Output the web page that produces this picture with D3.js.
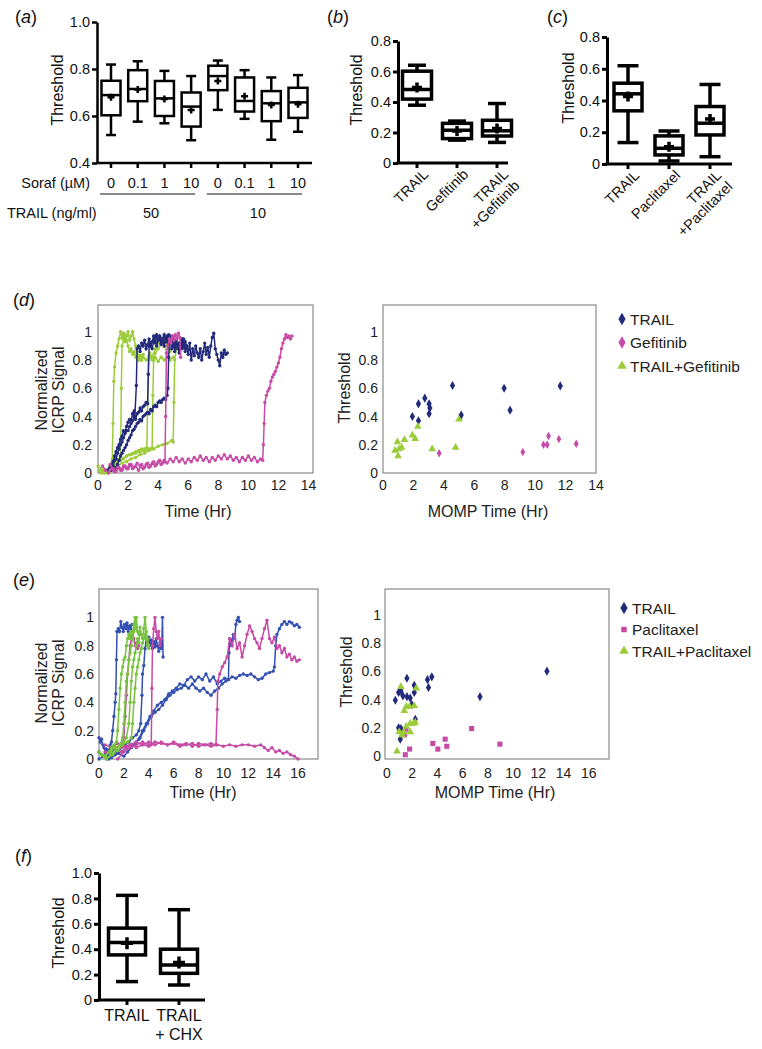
<!DOCTYPE html>
<html><head><meta charset="utf-8">
<script src="https://cdn.jsdelivr.net/npm/d3@7"></script>
<style>body{margin:0;background:#fff}svg{display:block}text{font-family:"Liberation Sans",Arial,sans-serif}</style>
</head><body><svg id="c" width="762" height="1049"></svg>
<script>
// ---------- Panel (a) ----------
const aSoraf = ["0","0.1","1","10","0","0.1","1","10"];
const aTrail = ["50","10"];
const aMax  = [0.819,0.833,0.792,0.770,0.836,0.795,0.764,0.774];
const aQ3   = [0.750,0.795,0.749,0.700,0.814,0.764,0.706,0.720];
const aMed  = [0.689,0.715,0.675,0.640,0.770,0.664,0.654,0.658];
const aMean = [0.680,0.713,0.672,0.626,0.749,0.684,0.647,0.650];
const aQ1   = [0.603,0.663,0.600,0.555,0.710,0.619,0.578,0.592];
const aMin  = [0.519,0.576,0.569,0.497,0.626,0.588,0.499,0.533];
const aTicks = [0.4,0.6,0.8,1.0];
const aTickLabels = ["0.4","0.6","0.8","1.0"];
// ---------- Panel (b) ----------
const bCats = [["TRAIL"],["Gefitinib"],["TRAIL","+Gefitinib"]];
const bMax  = [0.641,0.275,0.390];
const bQ3   = [0.602,0.260,0.280];
const bMed  = [0.482,0.215,0.211];
const bMean = [0.495,0.210,0.227];
const bQ1   = [0.419,0.160,0.177];
const bMin  = [0.379,0.150,0.135];
// ---------- Panel (c) ----------
const cCats = [["TRAIL"],["Paclitaxel"],["TRAIL","+Paclitaxel"]];
const cMax  = [0.619,0.208,0.501];
const cQ3   = [0.509,0.177,0.362];
const cMed  = [0.442,0.099,0.257];
const cMean = [0.425,0.109,0.284];
const cQ1   = [0.335,0.057,0.183];
const cMin  = [0.135,0.019,0.046];
const bcTicks = [0,0.2,0.4,0.6,0.8];
const bcTickLabels = ["0","0.2","0.4","0.6","0.8"];
// ---------- Panel (f) ----------
const fCats = [["TRAIL"],["TRAIL","+ CHX"]];
const fMax  = [0.824,0.711];
const fQ3   = [0.566,0.400];
const fMed  = [0.453,0.276];
const fMean = [0.447,0.295];
const fQ1   = [0.355,0.210];
const fMin  = [0.145,0.118];
const fTicks = [0,0.2,0.4,0.6,0.8,1.0];
const fTickLabels = ["0","0.2","0.4","0.6","0.8","1.0"];

// ---------- Panel (d) traces ----------
const dTrailTraces = [
 [[0.6,0.02],[0.8,0.04],[1.0,0.08],[1.1,0.12],[1.2,0.15],[1.3,0.18],[1.4,0.2],[1.5,0.24],[1.6,0.26],[1.7,0.3],[1.8,0.29],[1.9,0.33],[2.0,0.36],[2.1,0.38],[2.2,0.37],[2.3,0.42],[2.4,0.44],[2.45,0.4],[2.55,0.62],[2.6,0.88],[2.7,0.9],[2.8,0.86],[2.9,0.92],[3.0,0.9],[3.1,0.94],[3.2,0.88],[3.3,0.91],[3.4,0.95],[3.5,0.9],[3.6,0.93],[3.7,0.97],[3.8,0.92],[3.9,0.98],[4.0,0.94],[4.1,0.96],[4.2,0.91],[4.3,0.95],[4.4,0.98],[4.5,0.93],[4.6,0.97],[4.7,0.9],[4.8,0.94],[4.9,0.88],[5.0,0.92],[5.1,0.86],[5.2,0.93],[5.3,0.9],[5.4,0.85],[5.5,0.92],[5.6,0.88],[5.7,0.95],[5.8,0.86],[5.9,0.9],[6.0,0.84],[6.1,0.92],[6.2,0.8],[6.3,0.88],[6.4,0.83],[6.5,0.9],[6.6,0.85],[6.7,0.82],[6.8,0.88],[6.9,0.8],[7.0,0.86],[7.1,0.92],[7.2,0.84],[7.3,0.89],[7.4,0.82],[7.5,0.9],[7.6,0.96],[7.7,0.99],[7.8,0.88],[7.9,0.84],[8.0,0.8],[8.1,0.76],[8.2,0.85],[8.3,0.82],[8.4,0.87],[8.5,0.84],[8.6,0.85]],
 [[0.9,0.02],[1.0,0.05],[1.1,0.09],[1.2,0.1],[1.3,0.14],[1.4,0.17],[1.5,0.2],[1.6,0.22],[1.7,0.25],[1.8,0.28],[1.9,0.3],[2.0,0.3],[2.1,0.33],[2.2,0.35],[2.3,0.37],[2.4,0.4],[2.5,0.38],[2.6,0.42],[2.7,0.43],[2.8,0.46],[2.9,0.44],[3.0,0.47],[3.1,0.48],[3.2,0.5],[3.3,0.49],[3.35,0.7],[3.4,0.9],[3.5,0.92],[3.6,0.88],[3.7,0.93],[3.8,0.96],[3.9,0.9],[4.0,0.94],[4.1,0.97],[4.2,0.92],[4.3,0.95],[4.4,0.9],[4.5,0.96],[4.6,0.93],[4.7,0.98],[4.8,0.92],[4.9,0.96],[5.0,0.9],[5.1,0.94],[5.2,0.91]],
 [[1.1,0.02],[1.2,0.04],[1.3,0.06],[1.4,0.09],[1.5,0.12],[1.6,0.14],[1.7,0.16],[1.8,0.18],[1.9,0.2],[2.0,0.23],[2.1,0.25],[2.2,0.27],[2.3,0.3],[2.4,0.31],[2.5,0.33],[2.6,0.35],[2.7,0.36],[2.8,0.38],[2.9,0.37],[3.0,0.4],[3.1,0.41],[3.2,0.42],[3.3,0.43],[3.4,0.42],[3.5,0.45],[3.6,0.44],[3.7,0.47],[3.8,0.48],[3.9,0.47],[4.0,0.5],[4.1,0.51],[4.2,0.5],[4.3,0.52],[4.4,0.53],[4.5,0.52],[4.6,0.55],[4.65,0.6],[4.7,0.82],[4.75,0.92],[4.8,0.97],[4.9,0.93],[5.0,0.96],[5.1,0.9],[5.2,0.94],[5.3,0.88],[5.4,0.92],[5.5,0.9],[5.6,0.95],[5.7,0.89],[5.8,0.93],[5.9,0.9]]
];
const dGefTraces = [
 [[0.3,0.05],[0.5,0.02],[0.7,0.0],[0.9,0.03],[1.1,0.01],[1.3,0.04],[1.5,0.02],[1.7,0.05],[1.9,0.03],[2.1,0.06],[2.3,0.03],[2.5,0.05],[2.7,0.02],[2.9,0.06],[3.1,0.04],[3.3,0.07],[3.5,0.05],[3.7,0.08],[3.9,0.06],[4.1,0.09],[4.3,0.07],[4.45,0.08],[4.5,0.4],[4.55,0.85],[4.65,0.9],[4.75,0.95],[4.85,0.92],[4.95,0.97],[5.05,0.94],[5.15,0.98],[5.25,0.95],[5.35,0.99],[5.45,0.96],[5.5,0.82]],
 [[0.8,0.06],[1.0,0.03],[1.2,0.01],[1.4,0.04],[1.6,0.02],[1.8,0.05],[2.0,0.03],[2.2,0.06],[2.4,0.04],[2.6,0.07],[2.8,0.05],[3.0,0.03],[3.2,0.06],[3.4,0.04],[3.6,0.07],[3.8,0.05],[4.0,0.08],[4.2,0.06],[4.4,0.09],[4.6,0.07],[4.8,0.1],[5.0,0.08],[5.2,0.11],[5.4,0.08],[5.6,0.1],[5.8,0.07],[6.0,0.1],[6.2,0.08],[6.4,0.11],[6.6,0.09],[6.8,0.12],[7.0,0.09],[7.2,0.11],[7.4,0.08],[7.6,0.11],[7.8,0.09],[8.0,0.12],[8.2,0.1],[8.4,0.13],[8.6,0.1],[8.8,0.12],[9.0,0.09],[9.2,0.11],[9.4,0.08],[9.6,0.11],[9.8,0.09],[10.0,0.12],[10.2,0.09],[10.4,0.11],[10.6,0.08],[10.8,0.1],[10.95,0.09],[11.0,0.2],[11.05,0.35],[11.1,0.5],[11.2,0.55],[11.3,0.58],[11.4,0.6],[11.5,0.65],[11.6,0.68],[11.7,0.7],[11.8,0.72],[11.9,0.75],[12.0,0.78],[12.1,0.82],[12.2,0.88],[12.3,0.92],[12.4,0.95],[12.5,0.98],[12.6,0.96],[12.7,0.97],[12.8,0.95],[12.9,0.97]]
];
const dComboTraces = [
 [[0,0.05],[0.2,0.03],[0.4,0.0],[0.6,0.02],[0.8,0.05],[0.95,0.1],[1.0,0.35],[1.05,0.65],[1.1,0.75],[1.2,0.85],[1.3,0.9],[1.4,0.95],[1.5,1.0],[1.6,0.96],[1.7,0.99],[1.8,0.93],[1.9,0.97],[2.0,1.0],[2.1,0.94],[2.2,0.97],[2.3,1.0],[2.4,0.95],[2.5,0.9],[2.6,0.85],[2.7,0.8],[2.8,0.83],[2.9,0.8],[3.0,0.84]],
 [[0.2,0.0],[0.5,0.02],[0.8,0.01],[1.0,0.05],[1.2,0.08],[1.4,0.1],[1.5,0.12],[1.55,0.6],[1.6,0.9],[1.7,0.95],[1.8,0.98],[1.9,0.94],[2.0,0.9],[2.1,0.86],[2.2,0.88],[2.3,0.84],[2.4,0.86],[2.5,0.82],[2.6,0.84],[2.7,0.8],[2.8,0.83],[2.9,0.8],[3.0,0.82],[3.2,0.8],[3.4,0.83],[3.6,0.8],[3.8,0.82],[4.0,0.79],[4.2,0.82],[4.4,0.8],[4.6,0.83],[4.8,0.8],[5.0,0.82]],
 [[0.3,0.02],[0.6,0.0],[0.9,0.03],[1.1,0.05],[1.3,0.07],[1.5,0.09],[1.7,0.1],[1.9,0.12],[2.1,0.13],[2.3,0.14],[2.5,0.15],[2.7,0.16],[2.9,0.17],[3.1,0.17],[3.25,0.18],[3.3,0.5],[3.35,0.8],[3.45,0.85],[3.6,0.82],[3.8,0.88],[4.0,0.92],[4.2,0.96],[4.4,0.9],[4.6,0.85]],
 [[0.5,0.01],[0.8,0.03],[1.0,0.05],[1.3,0.08],[1.6,0.1],[1.9,0.12],[2.2,0.13],[2.5,0.14],[2.8,0.15],[3.1,0.16],[3.4,0.17],[3.6,0.18],[3.65,0.55],[3.7,0.8],[3.8,0.85],[4.0,0.88],[4.2,0.92],[4.4,0.95],[4.6,0.9],[4.8,0.86]],
 [[0.1,0.02],[0.4,0.0],[0.7,0.02],[1.0,0.04],[1.3,0.05],[1.6,0.07],[1.9,0.08],[2.2,0.1],[2.5,0.11],[2.8,0.13],[3.1,0.14],[3.4,0.16],[3.7,0.17],[4.0,0.19],[4.3,0.2],[4.6,0.21],[4.9,0.23],[5.0,0.22],[5.05,0.5],[5.1,0.8],[5.2,0.88],[5.4,0.92],[5.6,0.95],[5.8,0.9],[6.0,0.88]]
];
// ---------- Panel (d) scatter ----------
const dTrailPts = [[1.93,0.40],[2.33,0.49],[2.33,0.37],[2.75,0.53],[3.03,0.49],[3.08,0.46],[3.03,0.42],[4.57,0.62],[5.14,0.41],[7.96,0.60],[8.35,0.445],[11.65,0.617]];
const dGefPts = [[3.69,0.14],[9.19,0.148],[10.55,0.20],[10.79,0.20],[10.88,0.262],[11.56,0.24],[12.70,0.207]];
const dComboPts = [[0.79,0.16],[0.95,0.22],[0.99,0.12],[1.05,0.17],[1.23,0.18],[1.41,0.235],[1.93,0.267],[2.11,0.243],[2.29,0.33],[3.23,0.17],[4.77,0.18],[4.99,0.38]];
const dLegend = ["TRAIL","Gefitinib","TRAIL+Gefitinib"];

// ---------- Panel (e) traces ----------
const eTrailTraces = [
 [[0,0.15],[0.1,0.12],[0.2,0.14],[0.3,0.1],[0.4,0.08],[0.5,0.05],[0.6,0.07],[0.7,0.03],[0.8,0.06],[0.9,0.1],[1.0,0.12],[1.1,0.2],[1.2,0.3],[1.3,0.4],[1.35,0.46],[1.4,0.7],[1.45,0.9],[1.55,0.92],[1.65,0.9],[1.75,0.97],[1.85,0.93],[1.95,0.9],[2.05,0.95],[2.15,0.92],[2.25,0.96],[2.35,0.9],[2.45,0.94],[2.55,0.92],[2.65,0.95]],
 [[0,0.05],[0.3,0.02],[0.6,0.05],[0.9,0.03],[1.2,0.07],[1.5,0.05],[1.8,0.08],[2.1,0.1],[2.4,0.12],[2.7,0.15],[3.0,0.17],[3.2,0.2],[3.35,0.25],[3.45,0.45],[3.5,0.6],[3.6,0.66],[3.7,0.78],[3.8,0.85],[3.9,0.82],[4.0,0.86],[4.1,0.8],[4.2,0.84],[4.3,0.78],[4.4,0.83],[4.5,0.79],[4.6,0.85],[4.7,0.8],[4.8,0.76],[4.9,0.82],[5.0,0.78],[5.05,0.8],[5.1,1.0],[5.15,0.72]],
 [[0,0.0],[0.5,0.03],[1.0,0.01],[1.5,0.04],[2.0,0.02],[2.3,0.05],[2.6,0.08],[2.9,0.1],[3.2,0.14],[3.5,0.2],[3.8,0.25],[4.1,0.3],[4.4,0.34],[4.7,0.38],[5.0,0.4],[5.3,0.42],[5.6,0.46],[5.9,0.48],[6.2,0.5],[6.5,0.53],[6.8,0.52],[7.1,0.56],[7.4,0.58],[7.7,0.55],[8.0,0.58],[8.3,0.56],[8.6,0.6],[8.9,0.55],[9.2,0.58],[9.5,0.53],[9.8,0.55],[10.1,0.57],[10.4,0.56],[10.7,0.58],[11.0,0.57],[11.3,0.59],[11.6,0.6],[11.9,0.59],[12.2,0.6],[12.5,0.58],[12.8,0.56],[13.1,0.57],[13.4,0.6],[13.7,0.61],[14.0,0.62],[14.1,0.65],[14.2,0.8],[14.3,0.88],[14.5,0.92],[14.7,0.95],[14.9,0.97],[15.1,0.95],[15.3,0.97],[15.5,0.96],[15.7,0.94],[15.9,0.95],[16.1,0.93]],
 [[0.3,0.02],[0.8,0.0],[1.3,0.03],[1.8,0.05],[2.2,0.08],[2.6,0.1],[3.0,0.12],[3.3,0.15],[3.6,0.2],[3.9,0.25],[4.2,0.3],[4.5,0.33],[4.8,0.35],[5.1,0.38],[5.4,0.42],[5.7,0.45],[6.0,0.47],[6.3,0.49],[6.6,0.5],[6.9,0.52],[7.2,0.5],[7.5,0.53],[7.8,0.5],[8.1,0.48],[8.4,0.5],[8.7,0.47],[9.0,0.45],[9.3,0.48],[9.6,0.5],[9.9,0.53],[10.2,0.55],[10.4,0.56],[10.45,0.75],[10.5,0.85],[10.6,0.8],[10.7,0.84],[10.8,0.88],[10.9,0.85],[11.0,0.95],[11.1,0.98],[11.2,1.0],[11.3,0.97]]
];
const ePacTraces = [
 [[0.5,0.1],[1.0,0.08],[1.5,0.11],[2.0,0.09],[2.5,0.1],[3.0,0.08],[3.5,0.1],[4.0,0.09],[4.2,0.1],[4.25,0.5],[4.3,0.8],[4.4,0.92],[4.5,1.0],[4.6,0.9],[4.7,0.85],[4.8,0.9],[4.9,0.8],[5.0,0.85]],
 [[1.5,0.0],[2.0,0.05],[2.5,0.08],[3.0,0.1],[3.5,0.12],[4.0,0.1],[4.5,0.12],[5.0,0.11],[5.5,0.1],[6.0,0.12],[6.5,0.1],[7.0,0.11],[7.5,0.09],[8.0,0.11],[8.5,0.1],[9.0,0.11],[9.4,0.1],[9.5,0.35],[9.55,0.55],[9.7,0.6],[9.9,0.65],[10.1,0.68],[10.3,0.72],[10.5,0.85],[10.7,0.8],[10.9,0.88],[11.1,0.78],[11.3,0.82],[11.5,0.72],[11.7,0.8],[11.9,0.88],[12.1,0.94],[12.3,0.9],[12.5,0.85],[12.7,0.82],[12.9,0.78],[13.1,0.85],[13.3,0.92],[13.5,0.98],[13.7,0.85],[13.9,0.82],[14.1,0.86],[14.3,0.78],[14.5,0.8],[14.7,0.75],[14.9,0.78],[15.1,0.72],[15.3,0.74],[15.5,0.7],[15.7,0.72],[15.9,0.69],[16.1,0.7]],
 [[1.8,0.05],[2.2,0.08],[2.6,0.1],[3.0,0.12],[3.5,0.1],[4.0,0.12],[4.5,0.1],[5.0,0.12],[5.5,0.1],[6.0,0.11],[6.5,0.09],[7.0,0.1],[7.5,0.11],[8.0,0.09],[8.5,0.1],[9.0,0.09],[9.5,0.1],[10.0,0.09],[10.5,0.1],[11.0,0.09],[11.5,0.1],[12.0,0.1],[12.5,0.09],[13.0,0.1],[13.3,0.08],[13.6,0.06],[13.9,0.08],[14.2,0.05],[14.5,0.06],[14.8,0.04],[15.1,0.05],[15.4,0.03],[15.7,0.02],[16.0,0.0]],
 [[0.5,0.05],[1.0,0.03],[1.5,0.06],[1.8,0.08],[2.0,0.15],[2.1,0.3],[2.2,0.45],[2.3,0.6],[2.4,0.7],[2.5,0.8],[2.6,0.85],[2.7,0.9],[2.8,0.85],[2.9,0.8],[3.0,0.82],[3.1,0.78],[3.2,0.8]]
];
const eComboTraces = [
 [[0,0.05],[0.5,0.02],[0.8,0.05],[1.0,0.08],[1.2,0.1],[1.4,0.12],[1.5,0.2],[1.6,0.35],[1.7,0.5],[1.8,0.6],[1.9,0.65],[2.0,0.7],[2.1,0.72],[2.2,0.8],[2.3,0.85],[2.4,0.88],[2.5,0.85],[2.6,0.9],[2.7,0.87],[2.8,0.95],[2.9,1.0],[3.0,0.92]],
 [[0.2,0.03],[0.6,0.0],[1.0,0.04],[1.4,0.07],[1.7,0.1],[1.9,0.15],[2.0,0.25],[2.1,0.4],[2.2,0.55],[2.3,0.6],[2.4,0.7],[2.5,0.75],[2.6,0.8],[2.7,0.85],[2.8,0.9],[2.9,0.95],[3.0,1.0],[3.1,0.9],[3.2,0.88],[3.3,0.93]],
 [[0.4,0.02],[0.9,0.05],[1.3,0.08],[1.7,0.1],[2.0,0.12],[2.2,0.15],[2.4,0.25],[2.5,0.4],[2.6,0.55],[2.7,0.65],[2.8,0.7],[2.9,0.75],[3.0,0.8],[3.1,0.85],[3.2,0.82],[3.3,0.9],[3.4,0.88],[3.5,0.85],[3.6,0.92],[3.7,1.0],[3.8,0.9],[3.9,0.85],[4.0,0.8]],
 [[0.6,0.0],[1.1,0.03],[1.5,0.06],[1.9,0.1],[2.3,0.12],[2.6,0.15],[2.7,0.25],[2.8,0.4],[2.9,0.5],[3.0,0.6],[3.1,0.65],[3.2,0.7],[3.3,0.75],[3.4,0.78],[3.5,0.82],[3.6,0.85],[3.7,0.88],[3.8,0.85],[3.9,0.8],[4.0,0.78]]
];
// ---------- Panel (e) scatter ----------
const eTrailPts = [[0.66,0.395],[0.92,0.45],[1.1,0.46],[1.26,0.426],[1.58,0.55],[1.58,0.42],[1.84,0.41],[1.97,0.365],[2.16,0.50],[2.16,0.45],[2.24,0.26],[0.92,0.20],[1.1,0.195],[1.05,0.12],[3.21,0.54],[3.55,0.56],[3.29,0.485],[7.37,0.42],[12.68,0.60]];
const ePacPts = [[1.45,0.01],[1.39,0.15],[1.79,0.05],[1.5,0.19],[3.63,0.09],[4.03,0.05],[4.61,0.12],[4.74,0.07],[6.71,0.195],[8.95,0.085]];
const eComboPts = [[0.79,0.035],[0.97,0.17],[1.1,0.49],[1.37,0.32],[1.53,0.35],[1.79,0.35],[2.16,0.355],[2.32,0.48],[1.84,0.17],[1.84,0.23],[2.1,0.23],[2.24,0.24],[1.53,0.21],[1.32,0.17],[1.18,0.15]];
const eLegend = ["TRAIL","Paclitaxel","TRAIL+Paclitaxel"];

const lineTicksY = [0,0.2,0.4,0.6,0.8,1];
const lineTickLabelsY = ["0","0.2","0.4","0.6","0.8","1"];
const dTicksX = [0,2,4,6,8,10,12,14];
const eTicksX = [0,2,4,6,8,10,12,14,16];

// ---------- colors ----------
const NAVY = "#232a7c", MAG = "#c74aa6", LIME = "#9dcc3a", BLUE = "#3350b2", GREEN = "#78c23e";

const svg = d3.select("#c");
const FONT = '"Liberation Sans", Arial, sans-serif';

function panelLabel(x, y, letter) {
  const t = svg.append("text").attr("x", x).attr("y", y).attr("font-size", 18).attr("fill", "#111");
  t.append("tspan").text("(");
  t.append("tspan").attr("font-style", "italic").text(letter);
  t.append("tspan").text(")");
}

function boxPanel(o) {
  const g = svg.append("g");
  const y = d3.scaleLinear().domain(o.ydom).range(o.yrange);
  const x = d3.scalePoint().domain(d3.range(o.max.length)).range(o.xrange);
  const ax = d3.axisLeft(y).tickValues(o.ticks).tickFormat((d, i) => o.tickLabels[i]).tickSize(5).tickSizeOuter(0);
  const ag = g.append("g").attr("transform", `translate(${o.axisX},0)`).call(ax);
  ag.select(".domain").attr("stroke", "#000").attr("stroke-width", o.axw);
  ag.selectAll(".tick line").attr("stroke", "#000").attr("stroke-width", o.axw);
  ag.selectAll(".tick text").attr("font-size", 14.5).attr("font-family", FONT).attr("fill", "#111").attr("x", -7);
  g.append("line").attr("x1", o.axisX - o.axw / 2).attr("x2", o.axisEnd).attr("y1", o.yrange[0]).attr("y2", o.yrange[0])
    .attr("stroke", "#000").attr("stroke-width", o.axw);
  g.selectAll(".xt").data(o.max).join("line").attr("x1", (d, i) => x(i)).attr("x2", (d, i) => x(i))
    .attr("y1", o.yrange[0]).attr("y2", o.yrange[0] + 5).attr("stroke", "#000").attr("stroke-width", o.axw);
  const idx = d3.range(o.max.length);
  const bg = g.selectAll(".bx").data(idx).join("g").attr("fill", "none").attr("stroke", "#000").attr("stroke-width", o.sw);
  bg.append("line").attr("x1", i => x(i)).attr("x2", i => x(i)).attr("y1", i => y(o.max[i])).attr("y2", i => y(o.q3[i]));
  bg.append("line").attr("x1", i => x(i)).attr("x2", i => x(i)).attr("y1", i => y(o.q1[i])).attr("y2", i => y(o.min[i]));
  bg.append("line").attr("x1", i => x(i) - o.capw / 2).attr("x2", i => x(i) + o.capw / 2).attr("y1", i => y(o.max[i])).attr("y2", i => y(o.max[i]));
  bg.append("line").attr("x1", i => x(i) - o.capw / 2).attr("x2", i => x(i) + o.capw / 2).attr("y1", i => y(o.min[i])).attr("y2", i => y(o.min[i]));
  bg.append("rect").attr("x", i => x(i) - o.bw / 2).attr("width", o.bw).attr("y", i => y(o.q3[i])).attr("height", i => y(o.q1[i]) - y(o.q3[i])).attr("fill", "#fff");
  bg.append("line").attr("x1", i => x(i) - o.bw / 2).attr("x2", i => x(i) + o.bw / 2).attr("y1", i => y(o.med[i])).attr("y2", i => y(o.med[i]));
  bg.append("path").attr("d", i => `M${x(i) - o.ps},${y(o.mean[i])}H${x(i) + o.ps}M${x(i)},${y(o.mean[i]) - o.ps}V${y(o.mean[i]) + o.ps}`)
    .attr("stroke-width", o.psw);
  svg.append("text").attr("transform", `translate(${o.titleX},${o.titleY}) rotate(-90)`).attr("text-anchor", "middle")
    .attr("font-size", 16).attr("fill", "#111").text("Threshold");
  return {x, y};
}

// ---- Panel a
panelLabel(15, 23, "a");
const A = boxPanel({ydom: [0.4, 1.0], yrange: [163, 22], xrange: [111, 298], axisX: 97, axisEnd: 312, axw: 2.5,
  ticks: aTicks, tickLabels: aTickLabels, max: aMax, q3: aQ3, med: aMed, mean: aMean, q1: aQ1, min: aMin,
  bw: 19, capw: 10, sw: 2.5, ps: 3.5, psw: 2.5, titleX: 63, titleY: 90});
svg.selectAll(".sor").data(aSoraf).join("text").attr("x", (d, i) => A.x(i)).attr("y", 188).attr("text-anchor", "middle")
  .attr("font-size", 14.5).attr("fill", "#111").text(d => d);
svg.append("text").attr("x", 90).attr("y", 188).attr("text-anchor", "end").attr("font-size", 14.5).attr("fill", "#111").text("Soraf (\u00B5M)");
svg.append("text").attr("x", 7).attr("y", 218).attr("font-size", 14.5).attr("fill", "#111").text("TRAIL (ng/ml)");
[[0, 3], [4, 7]].forEach((r, k) => {
  svg.append("line").attr("x1", A.x(r[0]) - 11).attr("x2", A.x(r[1]) + 4).attr("y1", 194).attr("y2", 194).attr("stroke", "#111").attr("stroke-width", 1);
  svg.append("text").attr("x", (A.x(r[0]) + A.x(r[1])) / 2).attr("y", 218).attr("text-anchor", "middle").attr("font-size", 14.5).attr("fill", "#111").text(aTrail[k]);
});

function rotLabels(X, cats, yTop) {
  cats.forEach((lines, i) => {
    const t = svg.append("text").attr("transform", `translate(${X.x(i) + 5},${yTop}) rotate(-45)`).attr("text-anchor", "end")
      .attr("font-size", 14.5).attr("fill", "#111");
    lines.forEach((l, j) => t.append("tspan").attr("x", 0).attr("dy", j === 0 ? "0.7em" : "1.1em").text(l));
  });
}
// ---- Panel b
panelLabel(327, 23, "b");
const B = boxPanel({ydom: [0, 0.8], yrange: [163, 41], xrange: [417, 497], axisX: 398, axisEnd: 508, axw: 3,
  ticks: bcTicks, tickLabels: bcTickLabels, max: bMax, q3: bQ3, med: bMed, mean: bMean, q1: bQ1, min: bMin,
  bw: 29, capw: 18, sw: 3.5, ps: 5, psw: 3.5, titleX: 362, titleY: 90});
rotLabels(B, bCats, 168);
// ---- Panel c
panelLabel(547, 23, "c");
const C = boxPanel({ydom: [0, 0.8], yrange: [164, 37], xrange: [628, 710], axisX: 607, axisEnd: 732, axw: 3,
  ticks: bcTicks, tickLabels: bcTickLabels, max: cMax, q3: cQ3, med: cMed, mean: cMean, q1: cQ1, min: cMin,
  bw: 28, capw: 21, sw: 3.5, ps: 5, psw: 3.5, titleX: 574, titleY: 88});
rotLabels(C, cCats, 169);
// ---- Panel f
panelLabel(15, 862, "f");
const F = boxPanel({ydom: [0, 1.0], yrange: [1000, 873], xrange: [127, 179], axisX: 99, axisEnd: 205, axw: 3,
  ticks: fTicks, tickLabels: fTickLabels, max: fMax, q3: fQ3, med: fMed, mean: fMean, q1: fQ1, min: fMin,
  bw: 37, capw: 22, sw: 3.5, ps: 6, psw: 3.5, titleX: 64, titleY: 933});
fCats.forEach((lines, i) => {
  lines.forEach((l, j) => svg.append("text").attr("x", F.x(i)).attr("y", 1021 + j * 19).attr("text-anchor", "middle")
    .attr("font-size", 16).attr("fill", "#111").text(l));
});

function frame(x, y) {
  const [x0, x1] = x.range(), [y0, y1] = y.range();
  svg.append("rect").attr("x", x0).attr("y", y1).attr("width", x1 - x0).attr("height", y0 - y1)
    .attr("fill", "none").attr("stroke", "#8a8a8a").attr("stroke-width", 1.2);
}
function tickLabels(x, y, xt, yLabX, xLabY) {
  svg.selectAll(null).data(lineTicksY).join("text").attr("x", yLabX).attr("y", d => y(d) + 5).attr("text-anchor", "end")
    .attr("font-size", 14).attr("fill", "#222").text((d, i) => lineTickLabelsY[i]);
  svg.selectAll(null).data(xt).join("text").attr("x", d => x(d)).attr("y", xLabY).attr("text-anchor", "middle")
    .attr("font-size", 14).attr("fill", "#222").text(d => d);
}
function traces(x, y, list, color) {
  const line = d3.line().x(d => x(d[0])).y(d => y(d[1]));
  const g = svg.append("g");
  list.forEach(tr => {
    g.append("path").attr("d", line(tr)).attr("fill", "none").attr("stroke", color).attr("stroke-width", 1.5);
    g.selectAll(null).data(tr).join("circle").attr("cx", d => x(d[0])).attr("cy", d => y(d[1])).attr("r", 1.7).attr("fill", color);
  });
}
function scatter(x, y, pts, type, color, size) {
  svg.append("g").selectAll("path").data(pts).join("path")
    .attr("transform", d => `translate(${x(d[0])},${y(d[1])})`)
    .attr("d", d3.symbol().type(type).size(size)).attr("fill", color);
}
function ytitle2(x1, x2, yc, l1, l2) {
  svg.append("text").attr("transform", `translate(${x1},${yc}) rotate(-90)`).attr("text-anchor", "middle").attr("font-size", 16).attr("fill", "#222").text(l1);
  if (l2) svg.append("text").attr("transform", `translate(${x2},${yc}) rotate(-90)`).attr("text-anchor", "middle").attr("font-size", 16).attr("fill", "#222").text(l2);
}
function xtitle(x, y, s) {
  svg.append("text").attr("x", x).attr("y", y).attr("text-anchor", "middle").attr("font-size", 16).attr("fill", "#222").text(s);
}
function legend(x, y0, dy, labels, syms) {
  labels.forEach((l, i) => {
    svg.append("path").attr("transform", `translate(${x},${y0 + i * dy})`).attr("d", d3.symbol().type(syms[i][0]).size(syms[i][2])).attr("fill", syms[i][1]);
    svg.append("text").attr("x", x + 8).attr("y", y0 + i * dy + 5.5).attr("font-size", 15.5).attr("fill", "#222").text(l);
  });
}

// ---- Panel d
panelLabel(13, 306, "d");
const xDL = d3.scaleLinear().domain([0, 14.3]).range([98, 313]);
const yDL = d3.scaleLinear().domain([0, 1.19]).range([473, 305]);
frame(xDL, yDL);
traces(xDL, yDL, dComboTraces, LIME);
traces(xDL, yDL, dTrailTraces, NAVY);
traces(xDL, yDL, dGefTraces, MAG);
tickLabels(xDL, yDL, dTicksX, 92, 490);
ytitle2(47, 64, 390, "Normalized", "ICRP Signal");
xtitle(198, 517, "Time (Hr)");

const xDS = d3.scaleLinear().domain([0, 14]).range([383, 596]);
const yDS = d3.scaleLinear().domain([0, 1.19]).range([473, 305]);
frame(xDS, yDS);
scatter(xDS, yDS, dTrailPts, d3.symbolDiamond, NAVY, 24);
scatter(xDS, yDS, dGefPts, d3.symbolDiamond, MAG, 20);
scatter(xDS, yDS, dComboPts, d3.symbolTriangle, LIME, 26);
tickLabels(xDS, yDS, dTicksX, 378, 490);
ytitle2(350, 0, 388, "Threshold");
xtitle(488, 517, "MOMP Time (Hr)");
legend(622, 319, 23.5, dLegend, [[d3.symbolDiamond, NAVY, 45], [d3.symbolDiamond, MAG, 45], [d3.symbolTriangle, LIME, 40]]);

// ---- Panel e
panelLabel(13, 586, "e");
const xEL = d3.scaleLinear().domain([0, 17.6]).range([99, 318]);
const yEL = d3.scaleLinear().domain([0, 1.2]).range([759, 589]);
frame(xEL, yEL);
traces(xEL, yEL, eTrailTraces, BLUE);
traces(xEL, yEL, ePacTraces, MAG);
traces(xEL, yEL, eComboTraces, GREEN);
tickLabels(xEL, yEL, eTicksX, 94, 778);
ytitle2(47, 64, 683, "Normalized", "ICRP Signal");
xtitle(203, 798, "Time (Hr)");

const xES = d3.scaleLinear().domain([-0.16, 17.6]).range([385, 609]);
const yES = d3.scaleLinear().domain([-0.02, 1.18]).range([759, 589]);
frame(xES, yES);
scatter(xES, yES, ePacPts, d3.symbolSquare, MAG, 26);
scatter(xES, yES, eTrailPts, d3.symbolDiamond, NAVY, 24);
scatter(xES, yES, eComboPts, d3.symbolTriangle, LIME, 26);
tickLabels(xES, yES, eTicksX, 381, 778);
ytitle2(352, 0, 672, "Threshold");
xtitle(495, 798, "MOMP Time (Hr)");
legend(624, 608, 21.5, eLegend, [[d3.symbolDiamond, NAVY, 45], [d3.symbolSquare, MAG, 30], [d3.symbolTriangle, LIME, 40]]);
</script></body></html>
